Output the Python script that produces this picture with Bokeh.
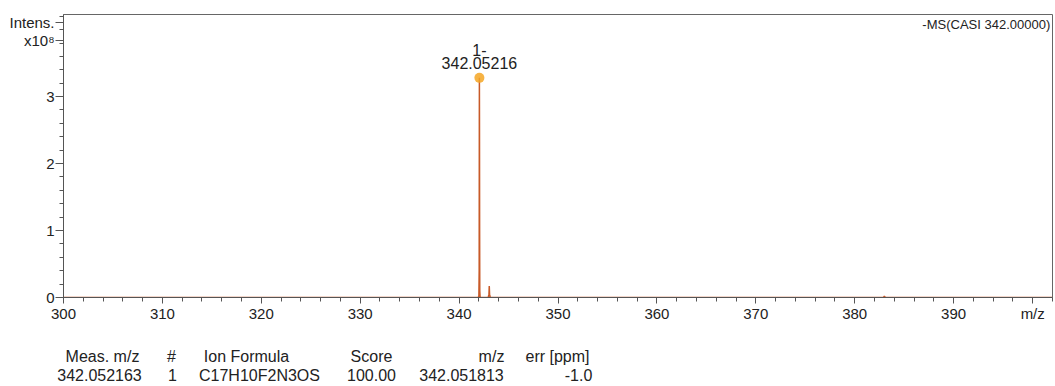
from bokeh.plotting import figure
from bokeh.models import Range1d, FixedTicker, LinearAxis
from bokeh.core.properties import value
from bokeh.embed import file_html
from bokeh.resources import INLINE

# ---- data (intensity in units of 1e8) ----
mz = [300.0, 341.90, 341.98, 342.00, 342.03, 342.045, 342.052, 342.06, 342.075,
      342.09, 342.12, 342.20, 342.95, 343.02, 343.05, 343.08, 343.15,
      382.90, 383.00, 383.10, 400.0]
intensity = [0.0, 0.0, 0.01, 0.03, 0.40, 2.60, 3.28, 2.70, 1.00,
             0.10, 0.01, 0.0, 0.0, 0.05, 0.17, 0.05, 0.0,
             0.0, 0.02, 0.0, 0.0]
peak_mz = [342.05216]
peak_int = [3.28]
peak_charge = ["1-"]
peak_label = ["342.05216"]
x_ticks = [300, 310, 320, 330, 340, 350, 360, 370, 380, 390]
y_ticks = [0, 1, 2, 3]

header = ["Meas. m/z", "#", "Ion Formula", "Score", "m/z", "err [ppm]"]
row = ["342.052163", "1", "C17H10F2N3OS", "100.00", "342.051813", "-1.0"]
# column centres of the result table, in page pixels
header_pos = [102, 171, 246, 371, 491, 557]
row_pos = [99, 172, 259, 371, 461, 578]

FONT = "Liberation Sans"
LINE = "#c85a28"
TXT = "#222222"
AX = "#555555"

p = figure(width=1054, height=386, output_backend="svg", toolbar_location=None,
           x_range=Range1d(300, 400), y_range=Range1d(0, 4.226),
           min_border_left=63, min_border_right=2, min_border_top=14,
           min_border_bottom=88)
p.xgrid.visible = False
p.ygrid.visible = False
p.outline_line_color = "#666666"

p.line(mz, intensity, line_color=LINE, line_width=1.5)
p.scatter(peak_mz, peak_int, size=10, fill_color="#f5a623", fill_alpha=0.85,
          line_color=None)

for ax in (p.xaxis[0], p.yaxis[0]):
    ax.axis_line_color = AX
    ax.major_tick_line_color = AX
    ax.minor_tick_line_color = AX
    ax.major_label_text_font = FONT
    ax.major_label_text_font_size = "15px"
    ax.major_label_text_color = TXT
    ax.major_tick_in = 0
    ax.minor_tick_in = 0

p.xaxis.ticker = FixedTicker(ticks=x_ticks + [398],
                             minor_ticks=list(range(300, 401, 2)))
p.xaxis.major_label_overrides = {398: "m/z"}
p.xaxis.major_tick_out = 6
p.xaxis.minor_tick_out = 4
p.xaxis.major_label_standoff = 1

p.yaxis.ticker = FixedTicker(ticks=y_ticks + [3.84, 4.1],
                             minor_ticks=[i * 0.2 for i in range(22)])
p.yaxis.major_label_overrides = {3.84: "x10\u2078", 4.1: "Intens."}
p.yaxis.major_tick_out = 8
p.yaxis.minor_tick_out = 4
p.yaxis.major_label_standoff = 1

# peak annotation
p.text(x=peak_mz, y=[3.69], text=peak_charge, text_font=value(FONT),
       text_font_size="16px", text_align="center", text_baseline="middle",
       text_color=TXT)
p.text(x=peak_mz, y=[3.50], text=peak_label, text_font=value(FONT),
       text_font_size="16px", text_align="center", text_baseline="middle",
       text_color=TXT)
# spectrum title, top right
p.text(x=[399.77], y=[4.08], text=["-MS(CASI 342.00000)"], text_font=value(FONT),
       text_font_size="13px", text_align="right", text_baseline="middle",
       text_color=TXT)

# ---- result table as two label rows below the x axis ----
p.extra_x_ranges = {"px": Range1d(63, 1052)}


def table_axis(positions, texts, standoff):
    ax = LinearAxis(x_range_name="px",
                    ticker=FixedTicker(ticks=positions, minor_ticks=[]),
                    major_label_overrides=dict(zip(positions, texts)),
                    axis_line_color=None, major_tick_line_color=None,
                    minor_tick_line_color=None, major_tick_out=0,
                    major_tick_in=0, major_label_standoff=standoff,
                    major_label_text_font=FONT,
                    major_label_text_font_size="16px",
                    major_label_text_color=TXT)
    p.add_layout(ax, "below")


table_axis(header_pos, header, 23)
table_axis(row_pos, row, -1)

open("out.html", "w").write(file_html(p, INLINE))
